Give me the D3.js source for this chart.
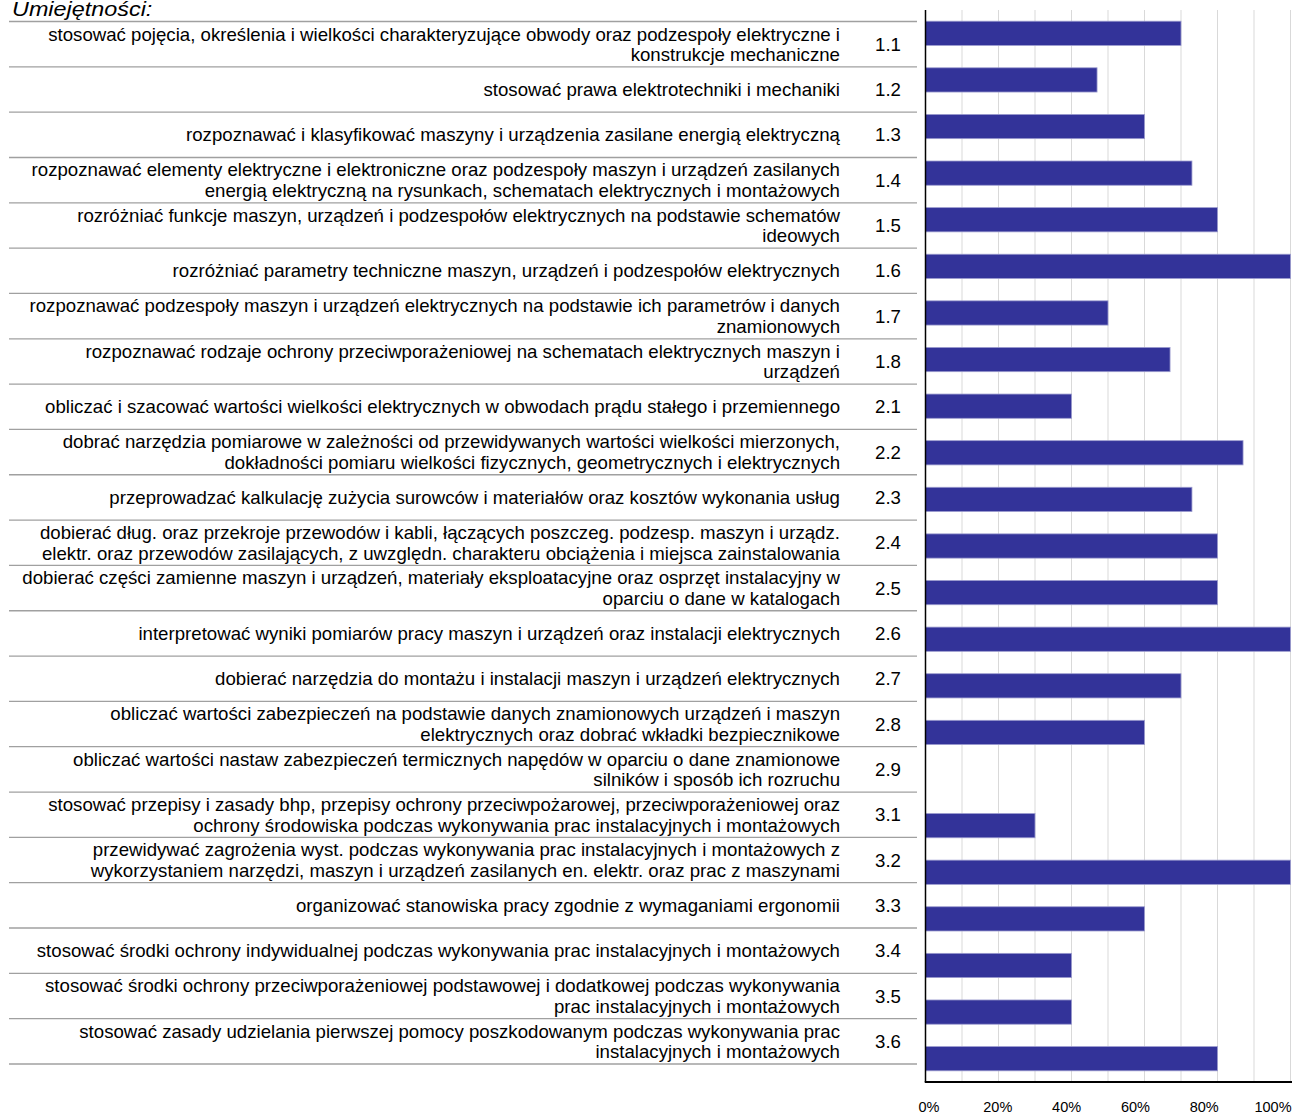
<!DOCTYPE html>
<html><head><meta charset="utf-8">
<script src="https://cdn.jsdelivr.net/npm/d3@7"></script>
<style>
html,body{margin:0;padding:0;background:#fff;}
svg{display:block;}
text{font-family:"Liberation Sans",Arial,sans-serif;fill:#000;}
</style></head><body>
<svg id="c" width="1296" height="1115"></svg>
<script>
const title = "Umiejętności:";
const codes = ["1.1","1.2","1.3","1.4","1.5","1.6","1.7","1.8","2.1","2.2","2.3","2.4","2.5","2.6","2.7","2.8","2.9","3.1","3.2","3.3","3.4","3.5","3.6"];
const labels = [
 ["stosować pojęcia, określenia i wielkości charakteryzujące obwody oraz podzespoły elektryczne i","konstrukcje mechaniczne"],
 ["stosować prawa elektrotechniki i mechaniki"],
 ["rozpoznawać i klasyfikować maszyny i urządzenia zasilane energią elektryczną"],
 ["rozpoznawać elementy elektryczne i elektroniczne oraz podzespoły maszyn i urządzeń zasilanych","energią elektryczną na rysunkach, schematach elektrycznych i montażowych"],
 ["rozróżniać funkcje maszyn, urządzeń i podzespołów elektrycznych na podstawie schematów","ideowych"],
 ["rozróżniać parametry techniczne maszyn, urządzeń i podzespołów elektrycznych"],
 ["rozpoznawać podzespoły maszyn i urządzeń elektrycznych na podstawie ich parametrów i danych","znamionowych"],
 ["rozpoznawać rodzaje ochrony przeciwporażeniowej na schematach elektrycznych maszyn i","urządzeń"],
 ["obliczać i szacować wartości wielkości elektrycznych w obwodach prądu stałego i przemiennego"],
 ["dobrać narzędzia pomiarowe w zależności od przewidywanych wartości wielkości mierzonych,","dokładności pomiaru wielkości fizycznych, geometrycznych i elektrycznych"],
 ["przeprowadzać kalkulację zużycia surowców i materiałów oraz kosztów wykonania usług"],
 ["dobierać dług. oraz przekroje przewodów i kabli, łączących poszczeg. podzesp. maszyn i urządz.","elektr. oraz przewodów zasilających, z uwzględn. charakteru obciążenia i miejsca zainstalowania"],
 ["dobierać części zamienne maszyn i urządzeń, materiały eksploatacyjne oraz osprzęt instalacyjny w","oparciu o dane w katalogach"],
 ["interpretować wyniki pomiarów pracy maszyn i urządzeń oraz instalacji elektrycznych"],
 ["dobierać narzędzia do montażu i instalacji maszyn i urządzeń elektrycznych"],
 ["obliczać wartości zabezpieczeń na podstawie danych znamionowych urządzeń i maszyn","elektrycznych oraz dobrać wkładki bezpiecznikowe"],
 ["obliczać wartości nastaw zabezpieczeń termicznych napędów w oparciu o dane znamionowe","silników i sposób ich rozruchu"],
 ["stosować przepisy i zasady bhp, przepisy ochrony przeciwpożarowej, przeciwporażeniowej oraz","ochrony środowiska podczas wykonywania prac instalacyjnych i montażowych"],
 ["przewidywać zagrożenia wyst. podczas wykonywania prac instalacyjnych i montażowych z","wykorzystaniem narzędzi, maszyn i urządzeń zasilanych en. elektr. oraz prac z maszynami"],
 ["organizować stanowiska pracy zgodnie z wymaganiami ergonomii"],
 ["stosować środki ochrony indywidualnej podczas wykonywania prac instalacyjnych i montażowych"],
 ["stosować środki ochrony przeciwporażeniowej podstawowej i dodatkowej podczas wykonywania","prac instalacyjnych i montażowych"],
 ["stosować zasady udzielania pierwszej pomocy poszkodowanym podczas wykonywania prac","instalacyjnych i montażowych"]
];
const values = [0.70,0.47,0.60,0.73,0.80,1.00,0.50,0.67,0.40,0.87,0.73,0.80,0.80,1.00,0.70,0.60,0,0.30,1.00,0.60,0.40,0.40,0.80];
const xTicks = [0,0.2,0.4,0.6,0.8,1.0];
const gridTicks = [0.1,0.2,0.3,0.4,0.5,0.6,0.7,0.8,0.9,1.0];

const svg = d3.select("#c");
const fs = 17.5;
const sx = 1.066;
const lineH = 20.6;
const off = 0.38*fs;

// title
svg.append("text").attr("transform",`translate(12,16) scale(1.17,1)`)
  .attr("font-style","italic").attr("font-size",20).text(title);

// table rows
const row = d3.scaleBand().domain(codes).range([21.5,1064]);
const tbl = svg.append("g");
const seps = [row(codes[0])].concat(codes.map(c=>row(c)+row.bandwidth()));
tbl.selectAll("line.sep").data(seps).join("line")
  .attr("x1",9).attr("x2",917).attr("y1",d=>d).attr("y2",d=>d)
  .attr("stroke","#a0a0a0").attr("stroke-width",1.3);

codes.forEach((c,i)=>{
  const cy = row(c)+row.bandwidth()/2;
  const ls = labels[i];
  const t = tbl.append("text").attr("text-anchor","end").attr("font-size",fs)
    .attr("transform",`translate(840,0) scale(${sx},1)`);
  ls.forEach((l,j)=>{
    t.append("tspan").attr("x",0)
     .attr("y", cy + (j-(ls.length-1)/2)*lineH + off).text(l);
  });
  tbl.append("text").attr("transform",`translate(888,${cy+off}) scale(${sx},1)`)
    .attr("text-anchor","middle").attr("font-size",fs).text(c);
});

// bars
const x = d3.scaleLinear().domain([0,1]).range([925.5,1290.5]);
const y = d3.scaleBand().domain(codes).range([10,1082]).paddingInner(0.48).paddingOuter(0.24);
const xl = d3.scaleLinear().domain([0,1]).range([929,1273]);

svg.append("g").selectAll("line").data(gridTicks).join("line")
  .attr("x1",d=>x(d)).attr("x2",d=>x(d)).attr("y1",10).attr("y2",1082)
  .attr("stroke","#d9d9d9").attr("stroke-width",1);

svg.append("g").selectAll("rect").data(codes).join("rect")
  .attr("x",x(0)).attr("y",d=>y(d))
  .attr("width",(d,i)=>x(values[i])-x(0))
  .attr("height",y.bandwidth())
  .attr("fill",(d,i)=>values[i]>0?"#333399":"none")
  .attr("stroke",(d,i)=>values[i]>0?"#9c9ccf":"none").attr("stroke-width",0.8);

// axes
svg.append("line").attr("x1",x(0)).attr("x2",x(0)).attr("y1",10).attr("y2",1082)
  .attr("stroke","#000").attr("stroke-width",1.5);
svg.append("line").attr("x1",x(0)-0.75).attr("x2",1292).attr("y1",1082).attr("y2",1082)
  .attr("stroke","#000").attr("stroke-width",2);

svg.append("g").selectAll("text").data(xTicks).join("text")
  .attr("x",d=>xl(d)).attr("y",1111.5).attr("text-anchor","middle")
  .attr("font-size",14.5).text(d=>d3.format(".0%")(d));
</script>
</body></html>
